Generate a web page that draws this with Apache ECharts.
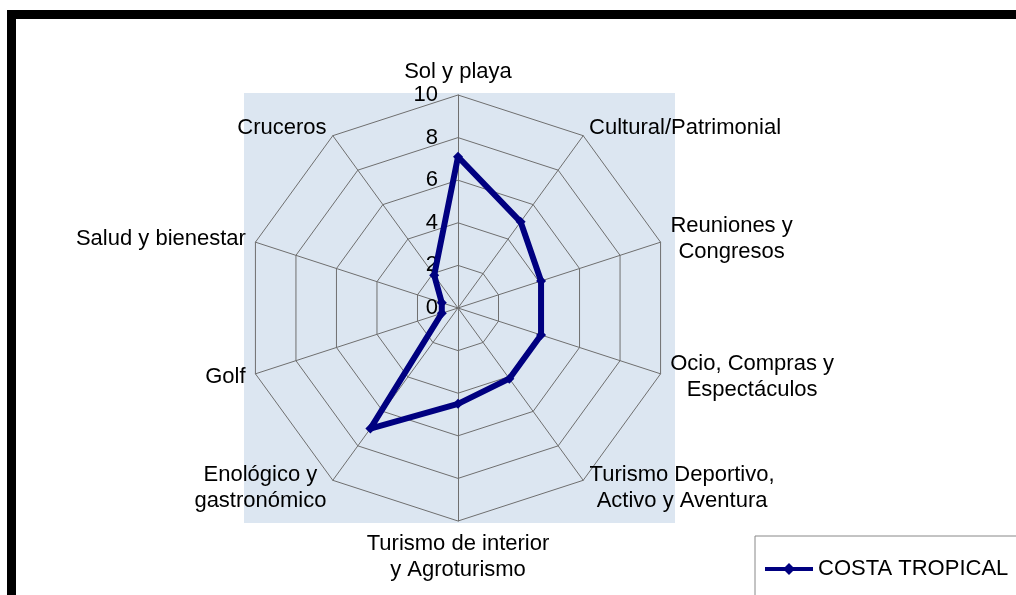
<!DOCTYPE html>
<html>
<head>
<meta charset="utf-8">
<script src="https://cdn.jsdelivr.net/npm/echarts@6/dist/echarts.min.js"></script>
<style>
  html, body { margin: 0; padding: 0; background: #fff; }
  #chart { width: 1016px; height: 595px; }
</style>
</head>
<body>
<div id="chart"></div>
<script>
// clockwise from the top
var categories = [
  'Sol y playa',
  'Cultural/Patrimonial',
  'Reuniones y\nCongresos',
  'Ocio, Compras y\nEspectáculos',
  'Turismo Deportivo,\nActivo y Aventura',
  'Turismo de interior\ny Agroturismo',
  'Enológico y\ngastronómico',
  'Golf',
  'Salud y bienestar',
  'Cruceros'
];
var costaTropical = [7.1, 5.0, 4.1, 4.1, 4.1, 4.5, 7.0, 0.8, 0.8, 1.9];
var maxValue = 10;

var FONT = 'Liberation Sans, Arial, sans-serif';
var FS = 22;

// echarts radar goes counter-clockwise, so keep the first one and flip the rest
function clockwise(arr) {
  return [arr[0]].concat(arr.slice(1).reverse());
}
var cats = clockwise(categories);
var vals = clockwise(costaTropical);

var ctx = document.createElement('canvas').getContext('2d');
ctx.font = FS + 'px ' + FONT;

var rich = {};
var indicators = cats.map(function (c, i) {
  var lines = c.split('\n');
  var w = Math.max.apply(null, lines.map(function (l) { return ctx.measureText(l).width; }));
  rich['r' + i] = { width: Math.ceil(w), align: 'center', fontSize: FS, lineHeight: 26, color: '#000', fontFamily: FONT };
  var ind = { name: c, max: maxValue, min: 0 };
  if (i === 0) {
    ind.axisLabel = { show: true };
  }
  return ind;
});

var mychart = echarts.init(document.getElementById('chart'));

mychart.setOption({
  animation: false,
  textStyle: { fontFamily: FONT },
  graphic: [
    {
      type: 'rect', z: -10, silent: true,
      shape: { x: 244, y: 93, width: 431, height: 430 },
      style: { fill: '#dce6f1' }
    },
    {
      type: 'rect', z: 100, silent: true,
      shape: { x: 11.5, y: 14.5, width: 2000, height: 2000 },
      style: { fill: 'none', stroke: '#000', lineWidth: 9 }
    }
  ],
  legend: {
    left: 755,
    top: 536,
    padding: [22, 40, 22, 10],
    borderColor: '#888',
    borderWidth: 1,
    itemWidth: 48,
    itemHeight: 12,
    itemGap: 4,
    textStyle: { fontSize: FS, color: '#000' },
    data: [{
      name: 'COSTA TROPICAL',
      icon: 'path://M0,4 L20,4 L24,0 L28,4 L48,4 L48,8 L28,8 L24,12 L20,8 L0,8 Z'
    }]
  },
  radar: {
    center: [458, 308],
    radius: 213,
    shape: 'polygon',
    splitNumber: 5,
    startAngle: 90,
    nameGap: 10,
    axisName: {
      color: '#000',
      fontSize: FS,
      formatter: function (name) {
        var i = cats.indexOf(name);
        return name.split('\n').map(function (l) { return '{r' + i + '|' + l + '}'; }).join('\n');
      },
      rich: rich
    },
    indicator: indicators,
    axisLabel: {
      show: false,
      fontSize: FS,
      color: '#000',
      margin: 20
    },
    axisTick: { show: false },
    axisLine: { lineStyle: { color: '#6f6f6f', width: 1 } },
    splitLine: { lineStyle: { color: '#6f6f6f', width: 1 } },
    splitArea: { show: false }
  },
  series: [
    {
      name: 'COSTA TROPICAL',
      type: 'radar',
      symbol: 'diamond',
      symbolSize: 10,
      lineStyle: { color: '#000080', width: 6 },
      itemStyle: { color: '#000080' },
      data: [{ value: vals, name: 'COSTA TROPICAL' }]
    }
  ]
});
</script>
</body>
</html>
